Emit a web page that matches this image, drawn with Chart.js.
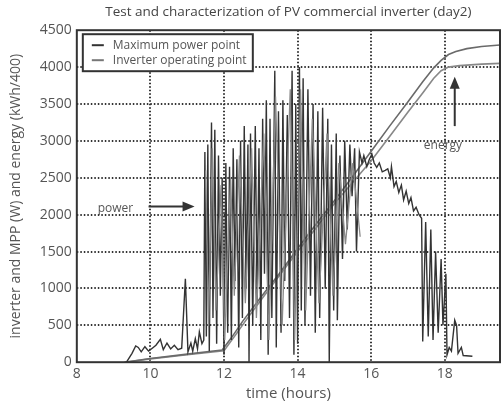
<!DOCTYPE html>
<html>
<head>
<meta charset="utf-8">
<script src="https://cdn.jsdelivr.net/npm/chart.js@4.4.0/dist/chart.umd.min.js"></script>
<style>
  html, body { margin: 0; padding: 0; background: #fff; }
  #wrap { width: 502px; height: 403px; }
</style>
</head>
<body>
<div id="wrap"><canvas id="chart"></canvas></div>
<script>
// time (hours) and power (W) for the maximum power point
const mppPower = [
  [9.35,0],[9.5,120],[9.6,220],[9.67,200],[9.75,140],[9.85,210],[9.95,150],[10.05,190],[10.15,230],[10.27,310],
  [10.35,170],[10.45,260],[10.55,180],[10.65,230],[10.75,170],[10.85,190],[10.95,1130],[11.02,140],[11.1,260],
  [11.15,150],[11.22,320],[11.28,180],[11.33,410],[11.4,250],[11.45,300],
  [11.48,2850],[11.52,350],[11.56,2950],[11.6,150],[11.66,3250],[11.7,600],[11.75,3150],[11.8,250],[11.85,2800],
  [11.9,900],[11.95,2500],[12.0,100],[12.05,2700],[12.1,400],[12.15,2650],[12.2,300],[12.25,2900],[12.3,1100],
  [12.35,2750],[12.4,200],[12.45,3000],[12.5,600],[12.55,3200],[12.6,1000],[12.65,2950],[12.68,0],[12.72,3100],
  [12.78,500],[12.85,3200],[12.9,800],[12.95,2900],[13.0,300],[13.05,3300],[13.1,1200],[13.15,3550],[13.2,100],
  [13.25,3300],[13.3,600],[13.38,3950],[13.42,200],[13.48,3400],[13.55,400],[13.6,3550],[13.65,1100],[13.72,3350],
  [13.78,600],[13.85,3950],[13.9,100],[13.95,3500],[14.0,250],[14.05,4000],[14.1,700],[14.15,3850],[14.2,500],
  [14.28,3700],[14.35,900],[14.42,3500],[14.48,400],[14.55,3400],[14.6,600],[14.68,3450],[14.75,1000],[14.82,3300],
  [14.86,0],[14.92,2950],[14.98,700],[15.05,3100],[15.08,570],[15.15,2800],[15.22,1400],[15.28,3000],[15.35,1800],
  [15.42,2950],[15.48,2250],[15.55,2900],[15.6,1500],[15.68,2850],[15.75,2700],[15.8,2800],[15.88,2650],[15.95,2750],
  [16.02,2820],[16.08,2700],[16.15,2640],[16.22,2700],[16.3,2580],[16.38,2600],[16.45,2620],[16.52,2500],[16.55,2650],
  [16.62,2380],[16.68,2450],[16.75,2300],[16.82,2400],[16.88,2200],[16.95,2320],[17.02,2150],[17.08,2230],[17.15,2050],
  [17.22,2100],[17.3,2000],[17.37,1950],[17.4,280],[17.48,1900],[17.55,350],[17.62,1800],[17.68,300],[17.75,1500],
  [17.82,400],[17.9,1400],[17.95,500],[18.03,1200],[18.06,100],[18.12,200],[18.18,150],[18.27,570],[18.32,500],
  [18.36,120],[18.45,200],[18.5,90],[18.75,80]
];

// time (hours) and power (W) at the inverter operating point
const invPower = [
  [11.5,2600],[11.58,500],[11.68,2900],[11.78,700],[11.92,2400],[12.02,300],[12.18,2500],[12.28,900],[12.42,2800],
  [12.58,800],[12.75,2900],[12.88,600],[13.08,3100],[13.22,300],[13.4,3600],[13.58,500],[13.8,3700],[13.92,300],
  [14.08,3700],[14.22,700],[14.4,3300],[14.58,800],[14.8,3100],[14.96,900],[15.12,2700],[15.3,1600],[15.5,2700],[15.7,1700]
];

// time (hours) and energy (kWh/400)
const mppEnergy = [
  [9.3,0],[10,50],[11,110],[11.95,165],[12.2,330],[12.5,550],[13,880],[13.5,1200],[14,1540],[14.5,1870],[15,2190],
  [15.5,2520],[16,2860],[16.5,3200],[17,3530],[17.4,3800],[17.7,3990],[17.9,4090],[18.1,4170],[18.3,4210],[18.6,4250],
  [19,4280],[19.5,4300]
];
const invEnergy = [
  [9.3,0],[10,45],[11,100],[12,155],[12.3,360],[12.6,570],[13,840],[13.5,1170],[14,1500],[14.5,1820],[15,2150],
  [15.5,2440],[16,2730],[16.5,3060],[17,3390],[17.4,3650],[17.7,3850],[17.9,3950],[18.1,4000],[18.4,4020],[19,4040],
  [19.5,4050]
];

const xTicks = [8, 10, 12, 14, 16, 18];
const yTicks = [0, 500, 1000, 1500, 2000, 2500, 3000, 3500, 4000, 4500];
const seriesNames = ['Maximum power point', 'Inverter operating point'];

const font = '"Open Sans", "DejaVu Sans", sans-serif';
const toXY = arr => arr.map(p => ({ x: p[0], y: p[1] }));

// dotted grid under the lines
const dottedGrid = {
  id: 'dottedGrid',
  beforeDatasetsDraw(chart) {
    const { ctx, chartArea: a, scales: { x, y } } = chart;
    ctx.save();
    ctx.strokeStyle = '#333';
    ctx.lineWidth = 2;
    ctx.setLineDash([1.5, 2]);
    xTicks.forEach(v => {
      if (v <= x.min) return;
      const px = Math.round(x.getPixelForValue(v));
      ctx.beginPath(); ctx.moveTo(px, a.top); ctx.lineTo(px, a.bottom); ctx.stroke();
    });
    yTicks.forEach(v => {
      if (v <= y.min || v >= y.max) return;
      const py = Math.round(y.getPixelForValue(v));
      ctx.beginPath(); ctx.moveTo(a.left, py); ctx.lineTo(a.right, py); ctx.stroke();
    });
    ctx.restore();
  }
};

// frame, legend box and arrows drawn on top of the plot
const extras = {
  id: 'extras',
  afterDatasetsDraw(chart) {
    const { ctx, chartArea: a, scales: { x, y } } = chart;
    ctx.save();
    ctx.strokeStyle = '#333';
    ctx.lineWidth = 2;
    ctx.strokeRect(a.left, a.top, a.right - a.left, a.bottom - a.top);

    // legend
    const lx = a.left + 6, ly = a.top + 4;
    ctx.fillStyle = '#fff';
    ctx.fillRect(lx, ly, 170, 37);
    ctx.strokeRect(lx, ly, 170, 37);
    ctx.font = '12px ' + font;
    ctx.textBaseline = 'middle';
    const cols = ['#333', '#777'];
    seriesNames.forEach((n, i) => {
      const yy = ly + 11 + i * 15;
      ctx.strokeStyle = cols[i];
      ctx.lineWidth = 2;
      ctx.beginPath(); ctx.moveTo(lx + 9, yy); ctx.lineTo(lx + 21, yy); ctx.stroke();
      ctx.fillStyle = '#555';
      ctx.fillText(n, lx + 30, yy);
    });

    // annotations
    ctx.fillStyle = '#555';
    ctx.font = '12px ' + font;
    ctx.textAlign = 'center';
    ctx.fillText('power', x.getPixelForValue(9.05), y.getPixelForValue(2080));
    ctx.fillText('energy', x.getPixelForValue(17.95), y.getPixelForValue(2930));

    ctx.strokeStyle = '#333';
    ctx.fillStyle = '#333';
    ctx.lineWidth = 2;
    const ay = y.getPixelForValue(2110);
    const ax0 = x.getPixelForValue(9.95), ax1 = x.getPixelForValue(11.2);
    ctx.beginPath(); ctx.moveTo(ax0, ay); ctx.lineTo(ax1 - 8, ay); ctx.stroke();
    ctx.beginPath(); ctx.moveTo(ax1, ay); ctx.lineTo(ax1 - 12, ay - 5); ctx.lineTo(ax1 - 12, ay + 5); ctx.closePath(); ctx.fill();

    const ex = x.getPixelForValue(18.27);
    const ey0 = y.getPixelForValue(3200), ey1 = y.getPixelForValue(3870);
    ctx.beginPath(); ctx.moveTo(ex, ey0); ctx.lineTo(ex, ey1 + 8); ctx.stroke();
    ctx.beginPath(); ctx.moveTo(ex, ey1); ctx.lineTo(ex - 5, ey1 + 12); ctx.lineTo(ex + 5, ey1 + 12); ctx.closePath(); ctx.fill();
    ctx.restore();
  }
};

const lineDs = (label, data, color, width) => ({
  label, data: toXY(data), borderColor: color, borderWidth: width,
  pointRadius: 0, tension: 0, fill: false
});

new Chart(document.getElementById('chart'), {
  type: 'line',
  data: {
    datasets: [
      lineDs(seriesNames[1], invPower, '#8a8a8a', 1.3),
      lineDs(seriesNames[0], mppPower, '#333', 1.4),
      lineDs(seriesNames[0] + ' energy', mppEnergy, '#6a6a6a', 1.6),
      lineDs(seriesNames[1] + ' energy', invEnergy, '#888', 1.6)
    ]
  },
  options: {
    responsive: true,
    maintainAspectRatio: false,
    animation: false,
    layout: { padding: { left: 8, right: 2, top: 0, bottom: 0 } },
    plugins: {
      legend: { display: false },
      tooltip: { enabled: false },
      title: {
        display: true,
        fullSize: false,
        text: 'Test and characterization of PV commercial inverter (day2)',
        color: '#444',
        font: { family: font, size: 13.5, weight: 'normal' },
        padding: { top: 4, bottom: 10 }
      }
    },
    scales: {
      x: {
        type: 'linear', min: 8, max: 19.5,
        afterBuildTicks: s => { s.ticks = xTicks.map(v => ({ value: v })); },
        ticks: { color: '#555', font: { family: font, size: 14 }, padding: 3, callback: v => String(v) },
        grid: { display: false, drawTicks: false },
        border: { display: false },
        title: { display: true, text: 'time (hours)', color: '#555', font: { family: font, size: 15 }, padding: { top: 0, bottom: 0 } }
      },
      y: {
        min: 0, max: 4500,
        afterBuildTicks: s => { s.ticks = yTicks.map(v => ({ value: v })); },
        ticks: { color: '#555', font: { family: font, size: 14 }, padding: 5, callback: v => String(v) },
        grid: { display: false, drawTicks: false },
        border: { display: false },
        title: { display: true, text: 'inverter and MPP (W) and energy (kWh/400)', color: '#555', font: { family: font, size: 14 }, padding: { top: 0, bottom: 10 } }
      }
    }
  },
  plugins: [dottedGrid, extras]
});
</script>
</body>
</html>
